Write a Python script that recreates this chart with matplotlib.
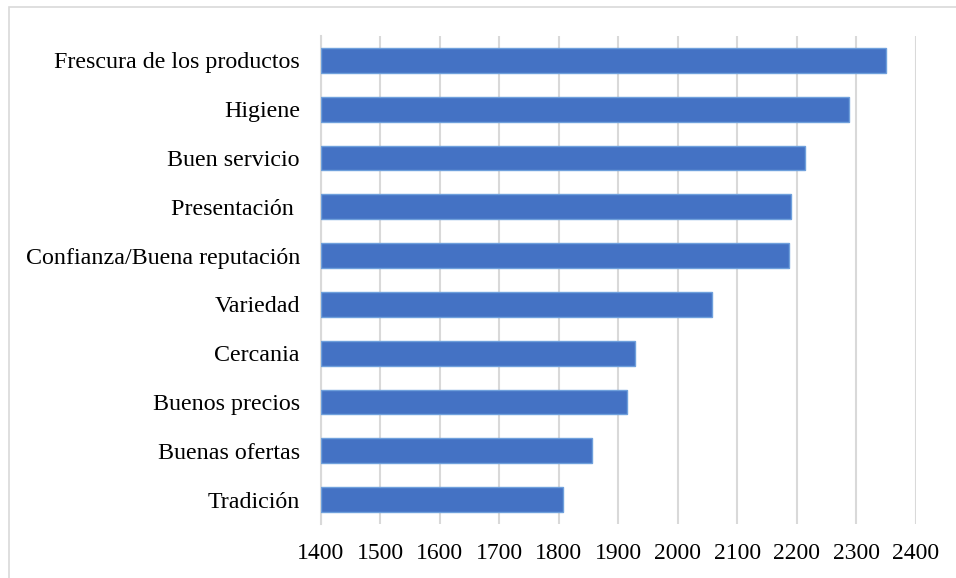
import matplotlib.pyplot as plt
from matplotlib.patches import Rectangle

# factores de eleccion, de arriba hacia abajo
factores = ['Frescura de los productos', 'Higiene', 'Buen servicio',
            'Presentación ', 'Confianza/Buena reputación', 'Variedad',
            'Cercania', 'Buenos precios', 'Buenas ofertas', 'Tradición']
puntajes = [2350, 2287, 2214, 2191, 2187, 2058, 1928, 1915, 1856, 1807]
ticks_x = [1400, 1500, 1600, 1700, 1800, 1900, 2000, 2100, 2200, 2300, 2400]

plt.rcParams['font.family'] = ['Liberation Serif', 'DejaVu Serif']

fig = plt.figure(figsize=(9.56, 5.78), dpi=100)
ax = fig.add_axes([0.3355, 0.0934, 0.6224, 0.8443])

pos = list(range(len(factores)))
ax.barh(pos, [p - ticks_x[0] for p in puntajes], left=ticks_x[0], height=0.51,
        color='#4472C4', edgecolor='#6FA0DC', linewidth=1.0, zorder=3)

ax.set_xlim(ticks_x[0], ticks_x[-1])
ax.set_ylim(len(factores) - 0.5, -0.5)
ax.set_xticks(ticks_x)
ax.set_yticks(pos)
ax.set_yticklabels(factores)
ax.tick_params(axis='both', length=0, colors='black')
ax.tick_params(axis='y', pad=15, labelsize=17.3)
ax.tick_params(axis='x', pad=14, labelsize=17)

ax.grid(axis='x', color='#D9D9D9', linewidth=1.5, zorder=0)
ax.set_axisbelow(True)
for lado in ['top', 'right', 'bottom']:
    ax.spines[lado].set_visible(False)
ax.spines['left'].set_color('#D9D9D9')
ax.spines['left'].set_linewidth(1.5)

# marco del area del grafico
fig.patches.append(Rectangle((9 / 956, -0.05), 1.0, 1 - 7 / 578 + 0.05,
                             transform=fig.transFigure, fill=False,
                             edgecolor='#D9D9D9', linewidth=1.2))

fig.savefig('out.png', dpi=100)
